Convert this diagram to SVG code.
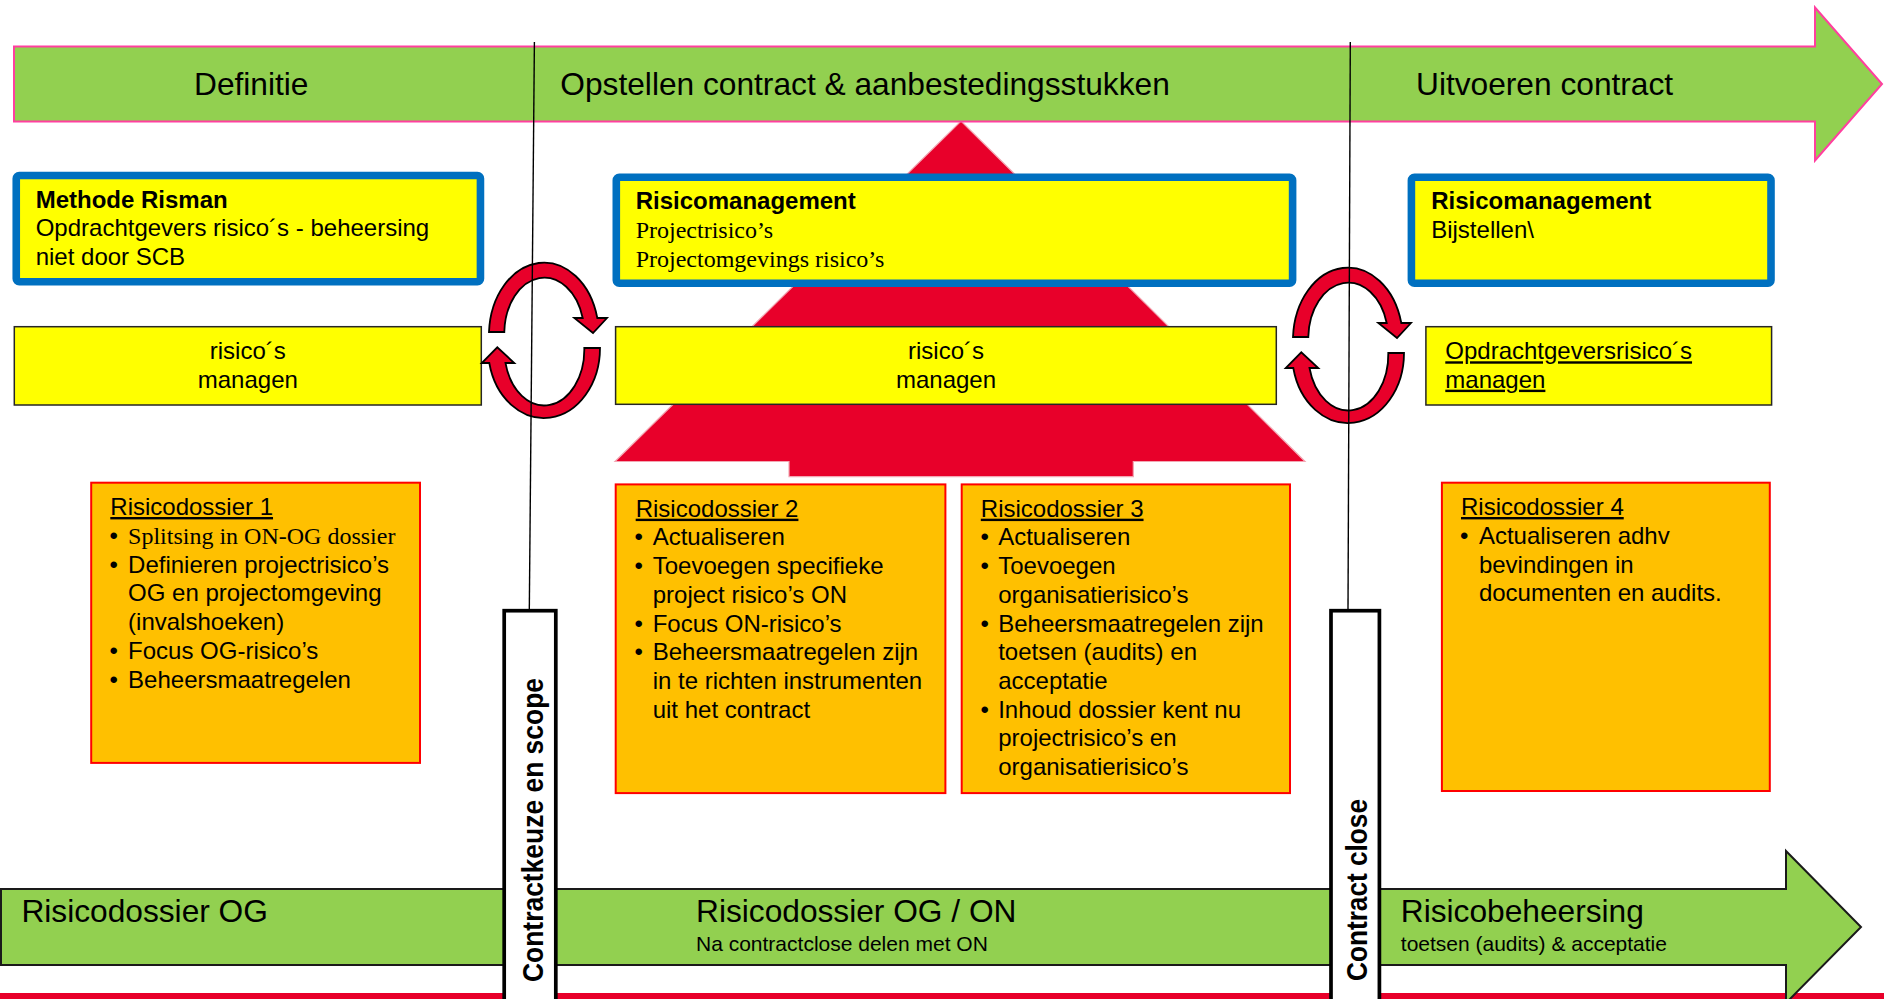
<svg xmlns="http://www.w3.org/2000/svg" width="1884" height="999" viewBox="0 0 1884 999">
<style>
.t{font-family:"Liberation Sans",Arial,sans-serif;fill:#000}
.s{font-family:"Liberation Serif","Times New Roman",serif;fill:#000}
.f24{font-size:24px}
.big{font-size:31.7px}
.sm{font-size:21px}
.b{font-weight:bold}
.u{text-decoration:underline}
.blue{fill:#FFFF00;stroke:#0070C0;stroke-width:7.6}
.yel{fill:#FFFF00;stroke:#262626;stroke-width:1.5}
.org{fill:#FFC000;stroke:#FF0000;stroke-width:2}
.cyc{fill:#E8002A;stroke:#000;stroke-width:1.8;stroke-linejoin:miter}
.vline{stroke:#000;stroke-width:1.4;fill:none}
.gate{fill:#fff;stroke:#000;stroke-width:3.7}
.gbar{fill:#92D050}
</style>
<defs>
<path id="cyc-up" d="M489,332 A55,73 0 0 1 597.3,318 L607,318 L593,333 L574.3,318 L582.7,318 A40,56 0 0 0 504.3,332 Z"/>
<path id="cyc-down" d="M600,348 A56,70 0 0 1 489.3,363 L481.7,363 L497.3,347.3 L514.3,363 L505.5,363 A40,56 0 0 0 584.3,348 Z"/>
</defs>

<g id="pyramid">
<polygon points="961,121 1305,461.5 1133.3,461.5 1133.3,476.7 789,476.7 789,461.5 615,461.5" fill="#E8002A" stroke="#F2A7B3" stroke-width="1.2"/>
</g>

<g id="phase-bar">
<path class="gbar" d="M14,46.5 L1815,46.5 L1815,7.5 L1882,84 L1815,160.5 L1815,121.5 L14,121.5 Z" stroke="#FF3F9F" stroke-width="2"/>
<text class="t big" x="194" y="95">Definitie</text>
<text class="t big" x="560.3" y="95">Opstellen contract &amp; aanbestedingsstukken</text>
<text class="t big" x="1416" y="95">Uitvoeren contract</text>
</g>

<g id="box-methode-risman">
<rect class="blue" x="16.25" y="175.5" width="464.2" height="106.2" rx="3"/>
<text class="t f24 b" x="35.7" y="207.5">Methode Risman</text>
<text class="t f24" x="35.7" y="236.3">Opdrachtgevers risico´s - beheersing</text>
<text class="t f24" x="35.7" y="265">niet door SCB</text>
</g>

<g id="box-risicomanagement-2">
<rect class="blue" x="616.3" y="177.2" width="676.3" height="106.1" rx="3"/>
<text class="t f24 b" x="635.7" y="209.3">Risicomanagement</text>
<text class="s f24" x="635.7" y="238">Projectrisico’s</text>
<text class="s f24" x="635.7" y="266.5">Projectomgevings risico’s</text>
</g>

<g id="box-risicomanagement-3">
<rect class="blue" x="1411.4" y="177.2" width="359.6" height="106.1" rx="3"/>
<text class="t f24 b" x="1431.2" y="209.3">Risicomanagement</text>
<text class="t f24" x="1431.2" y="238">Bijstellen\</text>
</g>

<g id="box-managen-1">
<rect class="yel" x="14.3" y="326.7" width="467" height="78.3"/>
<text class="t f24" x="247.8" y="359.3" text-anchor="middle">risico´s</text>
<text class="t f24" x="247.8" y="387.7" text-anchor="middle">managen</text>
</g>

<g id="box-managen-2">
<rect class="yel" x="615.6" y="326.7" width="660.7" height="77.6"/>
<text class="t f24" x="946" y="359.3" text-anchor="middle">risico´s</text>
<text class="t f24" x="946" y="387.7" text-anchor="middle">managen</text>
</g>

<g id="box-managen-3">
<rect class="yel" x="1425.9" y="326.7" width="345.7" height="78.3"/>
<text class="t f24 u" x="1445.3" y="359.3">Opdrachtgeversrisico´s</text>
<text class="t f24 u" x="1445.3" y="387.7">managen</text>
</g>

<g id="risicodossier-1">
<rect class="org" x="91.2" y="482.7" width="328.8" height="280.2"/>
<text class="t f24 u" x="110.3" y="515">Risicodossier 1</text>
<text class="t f24" x="109.6" y="543.75">•</text>
<text class="s f24" x="128.1" y="543.75">Splitsing in ON-OG dossier</text>
<text class="t f24" x="109.6" y="572.5">•</text>
<text class="t f24" x="128.1" y="572.5">Definieren projectrisico’s</text>
<text class="t f24" x="128.1" y="601.25">OG en projectomgeving</text>
<text class="t f24" x="128.1" y="630">(invalshoeken)</text>
<text class="t f24" x="109.6" y="658.75">•</text>
<text class="t f24" x="128.1" y="658.75">Focus OG-risico’s</text>
<text class="t f24" x="109.6" y="687.5">•</text>
<text class="t f24" x="128.1" y="687.5">Beheersmaatregelen</text>
</g>

<g id="risicodossier-2">
<rect class="org" x="615.7" y="484.4" width="329.7" height="308.7"/>
<text class="t f24 u" x="635.7" y="516.7">Risicodossier 2</text>
<text class="t f24" x="634.6" y="545.4">•</text>
<text class="t f24" x="652.7" y="545.4">Actualiseren</text>
<text class="t f24" x="634.6" y="574.1">•</text>
<text class="t f24" x="652.7" y="574.1">Toevoegen specifieke</text>
<text class="t f24" x="652.7" y="602.8">project risico’s ON</text>
<text class="t f24" x="634.6" y="631.5">•</text>
<text class="t f24" x="652.7" y="631.5">Focus ON-risico’s</text>
<text class="t f24" x="634.6" y="660.2">•</text>
<text class="t f24" x="652.7" y="660.2">Beheersmaatregelen zijn</text>
<text class="t f24" x="652.7" y="688.9">in te richten instrumenten</text>
<text class="t f24" x="652.7" y="717.6">uit het contract</text>
</g>

<g id="risicodossier-3">
<rect class="org" x="961.7" y="484.4" width="328.3" height="308.7"/>
<text class="t f24 u" x="980.8" y="516.7">Risicodossier 3</text>
<text class="t f24" x="980.6" y="545.4">•</text>
<text class="t f24" x="998.2" y="545.4">Actualiseren</text>
<text class="t f24" x="980.6" y="574.1">•</text>
<text class="t f24" x="998.2" y="574.1">Toevoegen</text>
<text class="t f24" x="998.2" y="602.8">organisatierisico’s</text>
<text class="t f24" x="980.6" y="631.5">•</text>
<text class="t f24" x="998.2" y="631.5">Beheersmaatregelen zijn</text>
<text class="t f24" x="998.2" y="660.2">toetsen (audits) en</text>
<text class="t f24" x="998.2" y="688.9">acceptatie</text>
<text class="t f24" x="980.6" y="717.6">•</text>
<text class="t f24" x="998.2" y="717.6">Inhoud dossier kent nu</text>
<text class="t f24" x="998.2" y="746.3">projectrisico’s en</text>
<text class="t f24" x="998.2" y="775">organisatierisico’s</text>
</g>

<g id="risicodossier-4">
<rect class="org" x="1441.9" y="482.7" width="327.9" height="308.3"/>
<text class="t f24 u" x="1461" y="515">Risicodossier 4</text>
<text class="t f24" x="1460.1" y="543.75">•</text>
<text class="t f24" x="1478.9" y="543.75">Actualiseren adhv</text>
<text class="t f24" x="1478.9" y="572.5">bevindingen in</text>
<text class="t f24" x="1478.9" y="601.25">documenten en audits.</text>
</g>

<g id="connectors">
<use href="#cyc-up" class="cyc"/>
<use href="#cyc-down" class="cyc"/>
<g transform="translate(804,5)">
<use href="#cyc-up" class="cyc"/>
<use href="#cyc-down" class="cyc"/>
</g>
<line class="vline" x1="534.4" y1="42" x2="529.3" y2="611"/>
<line class="vline" x1="1350.3" y1="42" x2="1348" y2="611"/>
</g>

<g id="dossier-bar">
<rect x="0" y="993" width="1884" height="6" fill="#E8002A"/>
<path class="gbar" d="M1,889 L1786,889 L1786,851 L1861,927 L1786,1003 L1786,965 L1,965 Z" stroke="#1a1a1a" stroke-width="2"/>
<text class="t big" x="21.4" y="921.7">Risicodossier OG</text>
<text class="t big" x="696" y="921.7">Risicodossier OG / ON</text>
<text class="t sm" x="696" y="951">Na contractclose delen met ON</text>
<text class="t big" x="1400.8" y="921.7">Risicobeheersing</text>
<text class="t sm" x="1400.8" y="951">toetsen (audits) &amp; acceptatie</text>
</g>

<g id="gate-contractkeuze">
<rect class="gate" x="504.2" y="610.7" width="51.6" height="420"/>
<text class="t b" font-size="30" transform="translate(542.5,982) rotate(-90)" textLength="304" lengthAdjust="spacingAndGlyphs">Contractkeuze en scope</text>
</g>

<g id="gate-contract-close">
<rect class="gate" x="1331" y="610.7" width="48.4" height="420"/>
<text class="t b" font-size="30" transform="translate(1367.3,981) rotate(-90)" textLength="182" lengthAdjust="spacingAndGlyphs">Contract close</text>
</g>
</svg>
